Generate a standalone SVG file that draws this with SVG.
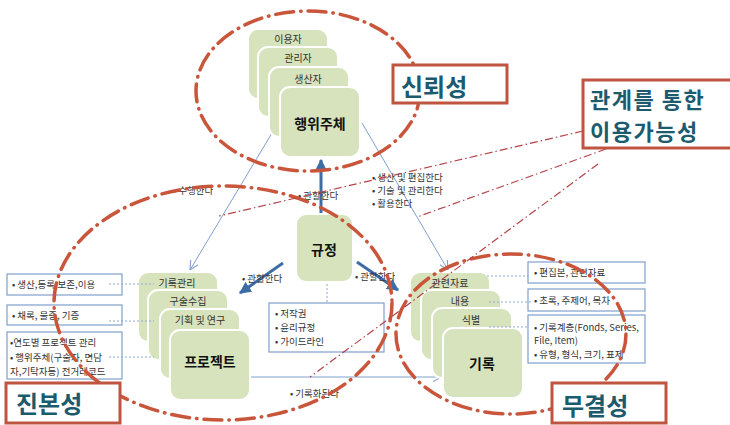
<svg xmlns="http://www.w3.org/2000/svg" width="730" height="425" viewBox="0 0 730 425">
<defs>
<style>
text{font-family:"Noto Sans CJK KR","Noto Sans",sans-serif;fill:#333}
.card{fill:#D7E3BC;stroke:#fff;stroke-width:2}
.cl{font-size:10px;text-anchor:middle}
.ml{font-size:14px;font-weight:bold;text-anchor:middle;fill:#111}
.tb{fill:#fff;stroke:#7F9FCD;stroke-width:1.2}
.tt{font-size:9.5px}
.lb{font-size:9.5px}
.dot{stroke:#8FA8D0;stroke-width:1;stroke-dasharray:2 2;fill:none}
.thin{stroke:#7FA0CF;stroke-width:1;fill:none}
.thick{stroke:#3E6DA6;stroke-width:3;fill:none}
.ell{fill:none;stroke:#C9553A;stroke-width:3.5;stroke-dasharray:18 7 0.5 7;stroke-linecap:round}
.rl{stroke:#B5424A;stroke-width:1.2;stroke-dasharray:8 3 1.5 3;fill:none}
.cb{fill:#fff;stroke:#BF5540;stroke-width:3}
.ct{font-size:24px;font-weight:bold;fill:#1C5A6E}
.ct2{font-size:22px;font-weight:bold;fill:#1C5A6E;letter-spacing:1.5px}
</style>
<marker id="ah" viewBox="0 0 10 10" refX="9" refY="5" markerWidth="4" markerHeight="4" orient="auto"><path d="M0,0 L10,5 L0,10 z" fill="#3E6DA6"/></marker>
<marker id="ahs" viewBox="0 0 10 10" refX="10" refY="5" markerWidth="9" markerHeight="9" markerUnits="userSpaceOnUse" orient="auto"><path d="M0,0 L10,5 L0,10" fill="none" stroke="#7FA0CF" stroke-width="1.2"/></marker>
</defs>
<rect width="730" height="425" fill="#fff"/>

<g id="connectors">
<line class="thin" x1="278" y1="123" x2="190" y2="270" marker-end="url(#ahs)"/>
<line class="thin" x1="362" y1="123" x2="448" y2="270" marker-end="url(#ahs)"/>
<line class="thin" x1="250" y1="377" x2="442" y2="377" marker-end="url(#ahs)"/>
<line class="thick" x1="321" y1="213" x2="321" y2="160" marker-end="url(#ah)"/>
<line class="thick" x1="283" y1="263" x2="240" y2="293" marker-end="url(#ah)"/>
<line class="thick" x1="357" y1="262" x2="398" y2="290" marker-end="url(#ah)"/>
<line class="dot" x1="327" y1="284" x2="327" y2="303"/>
</g>

<g id="actor">
<rect class="card" x="248" y="29" width="80" height="70" rx="10"/>
<text class="cl" x="288" y="43">이용자</text>
<rect class="card" x="258" y="47" width="80" height="70" rx="10"/>
<text class="cl" x="298" y="62">관리자</text>
<rect class="card" x="269" y="67" width="80" height="70" rx="10"/>
<text class="cl" x="308" y="83">생산자</text>
<rect class="card" x="280" y="87" width="80" height="70" rx="10"/>
<text class="ml" x="320" y="129">행위주체</text>
</g>

<g id="rule">
<rect class="card" x="296" y="214" width="57" height="68" rx="10"/>
<text class="ml" x="324" y="255">규정</text>
</g>

<g id="project">
<rect class="card" x="138" y="272" width="80" height="70" rx="10"/>
<text class="cl" x="177" y="287">기록관리</text>
<rect class="card" x="148" y="290" width="80" height="70" rx="10"/>
<text class="cl" x="188" y="305">구술수집</text>
<rect class="card" x="160" y="309" width="80" height="70" rx="10"/>
<text class="cl" x="200" y="324">기획 및 연구</text>
<rect class="card" x="170" y="330" width="80" height="70" rx="10"/>
<text class="ml" x="210" y="367">프로젝트</text>
</g>

<g id="record">
<rect class="card" x="410" y="272" width="80" height="70" rx="10"/>
<text class="cl" x="450" y="287">관련자료</text>
<rect class="card" x="421" y="290" width="80" height="70" rx="10"/>
<text class="cl" x="460" y="305">내용</text>
<rect class="card" x="432" y="308" width="80" height="70" rx="10"/>
<text class="cl" x="471" y="324">식별</text>
<rect class="card" x="443" y="328" width="80" height="70" rx="10"/>
<text class="ml" x="482" y="369">기록</text>
</g>

<g id="left-boxes">
<rect class="tb" x="7" y="274" width="115" height="21"/>
<text class="tt" x="12" y="288">• 생산,등록,보존,이용</text>
<rect class="tb" x="7" y="305" width="115" height="20"/>
<text class="tt" x="12" y="319">• 채록, 물증, 기증</text>
<rect class="tb" x="7" y="332" width="115" height="47"/>
<text class="tt" x="10" y="346">•연도별 프로젝트 관리</text>
<text class="tt" x="10" y="361">• 행위주체(구술자, 면담</text>
<text class="tt" x="10" y="375">자,기탁자등) 전거레코드</text>
<line class="dot" x1="109" y1="284" x2="154" y2="284"/>
<line class="dot" x1="109" y1="321" x2="154" y2="321"/>
<line class="dot" x1="109" y1="357" x2="154" y2="357"/>
</g>

<g id="rule-box">
<rect class="tb" x="269" y="303" width="115" height="49"/>
<text class="tt" x="275" y="317">• 저작권</text>
<text class="tt" x="275" y="331">• 윤리규정</text>
<text class="tt" x="275" y="345">• 가이드라인</text>
</g>

<g id="right-boxes">
<rect class="tb" x="528" y="262" width="117" height="21"/>
<text class="tt" x="534" y="276">• 편집본, 관련자료</text>
<rect class="tb" x="528" y="289" width="117" height="22"/>
<text class="tt" x="534" y="304">• 초록, 주제어, 목차</text>
<rect class="tb" x="528" y="315" width="117" height="48"/>
<text class="tt" x="534" y="331">• 기록계층(Fonds, Series,</text>
<text class="tt" x="534" y="344">File, Item)</text>
<text class="tt" x="534" y="358">• 유형, 형식, 크기, 표제</text>
<line class="dot" x1="487" y1="276" x2="528" y2="276"/>
<line class="dot" x1="489" y1="302" x2="531" y2="302"/>
<line class="dot" x1="489" y1="327" x2="528" y2="327"/>
</g>

<g id="labels">
<text class="lb" x="173" y="194">• 수행한다</text>
<text class="lb" x="298" y="199">• 관할한다</text>
<text class="lb" x="372" y="181">• 생산 및 편집한다</text>
<text class="lb" x="372" y="194">• 기술 및 관리한다</text>
<text class="lb" x="372" y="207">• 활용한다</text>
<text class="lb" x="242" y="282">• 관할한다</text>
<text class="lb" x="355" y="280">• 관할한다</text>
<text class="lb" x="290" y="397">• 기록화된다</text>
</g>

<g id="regions">
<ellipse class="ell" cx="308" cy="91" rx="112" ry="80"/>
<ellipse class="ell" cx="223" cy="303" rx="169" ry="117"/>
<ellipse class="ell" cx="511" cy="334" rx="115" ry="80"/>
<line class="rl" x1="583" y1="131" x2="219" y2="216"/>
<line class="rl" x1="606" y1="149" x2="417" y2="217"/>
<line class="rl" x1="598" y1="164" x2="310" y2="377"/>
</g>

<g id="callout-trust">
<rect class="cb" x="393" y="65" width="114" height="38"/>
<text class="ct" x="401" y="96">신뢰성</text>
</g>
<g id="callout-usability">
<rect class="cb" x="583" y="80" width="152" height="68"/>
<text class="ct2" x="590" y="108">관계를 통한</text>
<text class="ct2" x="590" y="140">이용가능성</text>
</g>
<g id="callout-authenticity">
<rect class="cb" x="6" y="383" width="114" height="40"/>
<text class="ct" x="16" y="413">진본성</text>
</g>
<g id="callout-integrity">
<rect class="cb" x="552" y="383" width="114" height="40"/>
<text class="ct" x="562" y="415">무결성</text>
</g>
</svg>
